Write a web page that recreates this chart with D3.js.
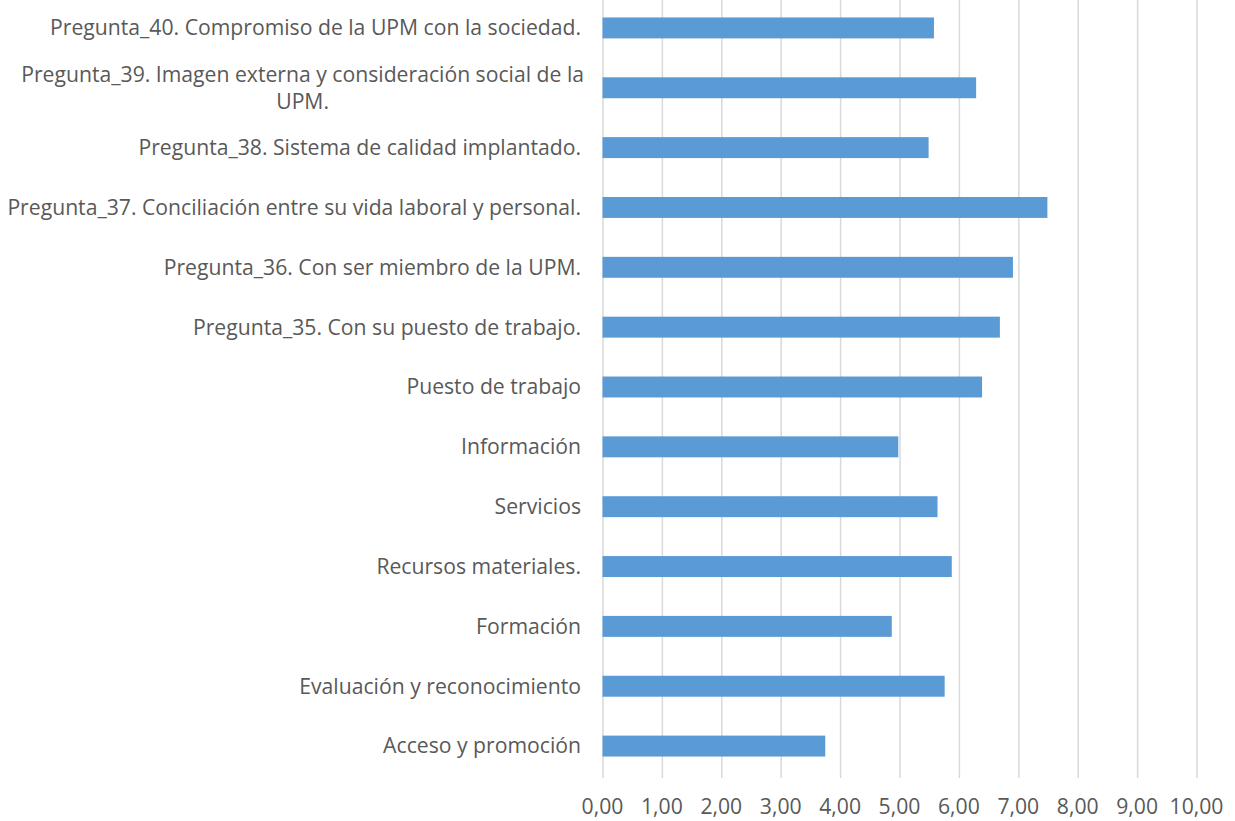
<!DOCTYPE html>
<html lang="es">
<head>
    <meta charset="UTF-8">
    <title>Satisfacción</title>
    <script src="https://d3js.org/d3.v7.min.js"></script>
    <style>
        body{ margin:0; background:#fff; }
        svg text{ font-family: "Open Sans", "Noto Sans", sans-serif; fill:#595959; }
        .grid line{ stroke:#d9d9d9; stroke-width:1.5px; }
        .grid path{ display:none; }
    </style>
</head>
<body>
<svg id="canvas" width="1235" height="821"></svg>
<script>
    // categorias de arriba a abajo
    let categories = [
        "Pregunta_40. Compromiso de la UPM con la sociedad.",
        "Pregunta_39. Imagen externa y consideración social de la|UPM.",
        "Pregunta_38. Sistema de calidad implantado.",
        "Pregunta_37. Conciliación entre su vida laboral y personal.",
        "Pregunta_36. Con ser miembro de la UPM.",
        "Pregunta_35. Con su puesto de trabajo.",
        "Puesto de trabajo",
        "Información",
        "Servicios",
        "Recursos materiales.",
        "Formación",
        "Evaluación y reconocimiento",
        "Acceso y promoción"
    ];
    let values = [5.58, 6.29, 5.49, 7.49, 6.91, 6.69, 6.39, 4.98, 5.64, 5.88, 4.87, 5.76, 3.75];
    let tickValues = [0,1,2,3,4,5,6,7,8,9,10];

    let svg = d3.select('#canvas');
    let x = d3.scaleLinear().domain([0,10]).range([602.5,1196.5]);
    let y = d3.scaleBand().domain(categories).range([-2,776]).paddingInner(0.65).paddingOuter(0.325);

    // lineas verticales
    svg.append('g')
        .attr('class','grid')
        .attr('transform','translate(0,778)')
        .call(d3.axisBottom(x).tickValues(tickValues).tickSize(780).tickSizeOuter(0).tickFormat(''))
        .selectAll('line').attr('y1',-780).attr('y2',0);

    svg.selectAll('rect.bar')
        .data(values)
        .enter()
        .append('rect')
        .attr('class','bar')
        .attr('x',x(0))
        .attr('y',function(d,i){return y(categories[i])})
        .attr('width',function(d){return x(d)-x(0)})
        .attr('height',y.bandwidth())
        .attr('fill','#5b9bd5');

    // etiquetas de categoria
    let fs = 20;
    let probe = svg.append('text').style('font-size',fs+'px')
        .text("Pregunta_37. Conciliación entre su vida laboral y personal.");
    let w = probe.node().getComputedTextLength();
    probe.remove();
    fs = fs*574/w;

    let labels = svg.append('g');
    categories.forEach(function(c){
        let lines = c.split('|');
        let cy = y(c)+y.bandwidth()/2;
        if(lines.length==1){
            labels.append('text')
                .attr('x',581).attr('y',cy)
                .attr('dy','0.35em')
                .attr('text-anchor','end')
                .style('font-size',fs+'px')
                .text(lines[0]);
        } else {
            let t = labels.append('text').style('font-size',fs+'px').text(lines[0]);
            let lw = t.node().getComputedTextLength();
            t.remove();
            let mid = 584-lw/2;
            lines.forEach(function(l,k){
                labels.append('text')
                    .attr('x',mid).attr('y',cy+(k-0.5)*27)
                    .attr('dy','0.35em')
                    .attr('text-anchor','middle')
                    .style('font-size',fs+'px')
                    .text(l);
            });
        }
    });

    // etiquetas del eje x
    svg.append('g').selectAll('text')
        .data(tickValues)
        .enter()
        .append('text')
        .attr('x',function(d){return x(d)})
        .attr('y',807)
        .attr('dy','0.35em')
        .attr('text-anchor','middle')
        .style('font-size',fs+'px')
        .text(function(d){return d3.format('.2f')(d).replace('.',',')});
</script>
</body>
</html>
